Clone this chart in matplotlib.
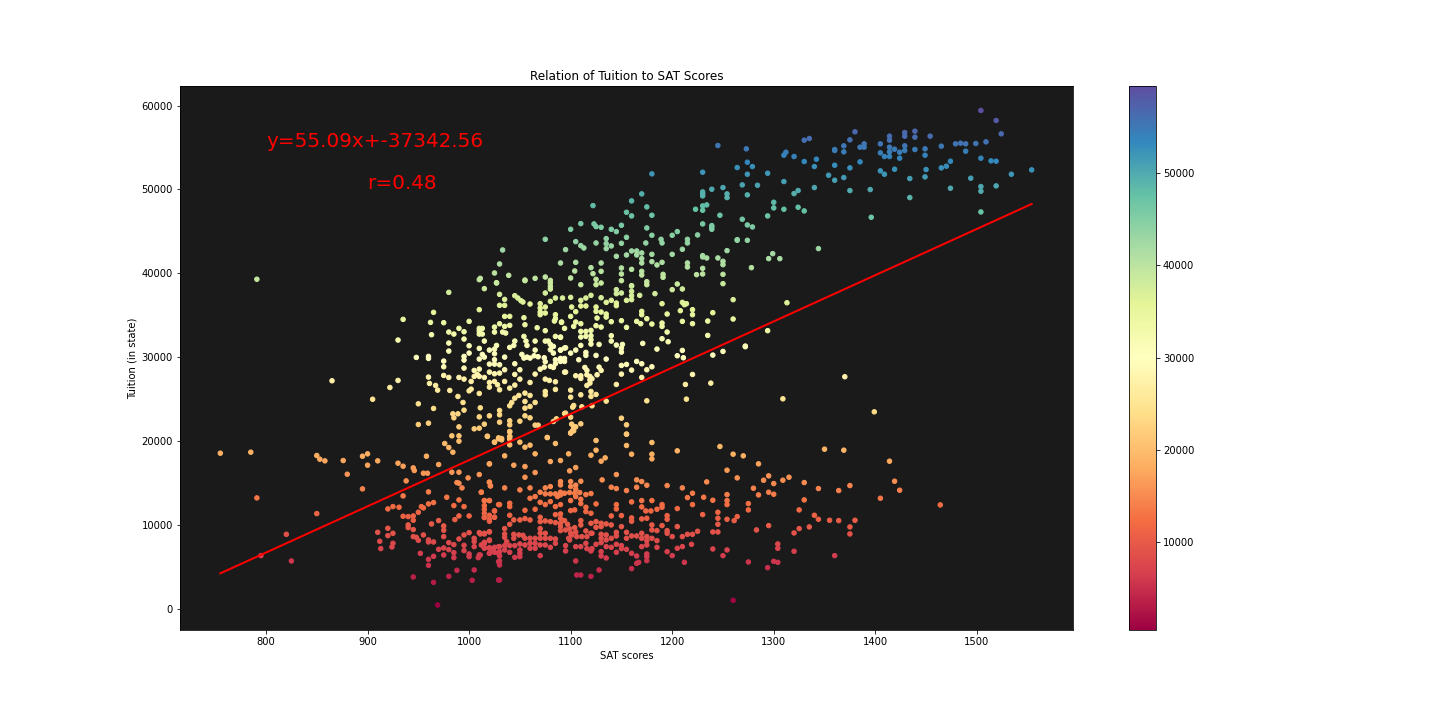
import matplotlib
matplotlib.use("Agg")
import matplotlib.pyplot as plt

# (SAT score, in-state tuition), grouped by tuition band
band_top = [(1504,59412),(1519,58220),(1524,56628),(1380,56867),(1335,56070),(1330,55872),(1245,55236),(1273,54838),(1312,54440),(1310,54083),(1320,53923),(1342,53605),(1330,53327),(1274,53247),(1279,52730),(1264,52610),(1230,52055),(1294,51935),(1274,51815),(1310,50940),(1269,50543),(1284,50503),(1250,50225),(1239,50026),(1324,49867),(1320,49509),(1230,49708),(1230,49470),(1230,49230),(1254,49470),(1254,49030),(1274,49350),(1340,50225),(1340,52730),(1360,54760),(1360,54640),(1369,55196),(1369,54480),(1375,55912),(1385,55037),(1389,55435),(1389,55037),(1405,55435),(1405,54360),(1414,56350),(1414,55872),(1414,55037),(1414,54480),(1414,53923),(1409,53923),(1419,54798),(1424,54440),(1424,53725),(1429,56787),(1429,56350),(1429,55196),(1429,54640),(1439,56946),(1439,56230),(1439,54760),(1454,56350),(1449,54838),(1449,54083),(1465,55157),(1479,55435),(1484,55514),(1489,55435),(1489,54560),(1499,55474),(1509,55673),(1504,53725),(1514,53406),(1519,53367),(1474,53367),(1470,52770),(1465,52571),(1450,52372),(1419,52412),(1405,52213),(1409,51815),(1385,53287),(1375,52571),(1360,52890),(1354,51696),(1360,51100),(1369,51418),(1434,51300),(1449,51497),(1494,51340),(1534,51815),(1554,52332),(1474,50145),(1504,50344),(1504,49787),(1519,50424),(1375,49867),(1395,49986),(1434,49032),(1504,47321),(1396,46685),(1300,48475),(1300,47800),(1310,47640),(1324,47878),(1330,47441),(1294,46845),(1223,47640),(1230,48038),(1230,47520),(1234,48157),(1247,46924),(1269,46447),(1274,45770),(1279,45532),(1230,45890),(1239,45691),(1239,45492),(1239,45254),(1225,44577),(1264,44020),(1274,43941)]

band_upper = [(1180,51856),(1170,49470),(1160,48635),(1122,48078),(1175,47919),(1155,47282),(1160,46845),(1180,46925),(1110,45930),(1100,45254),(1123,45890),(1125,45572),(1130,45493),(1140,45254),(1145,44976),(1150,45732),(1175,45413),(1155,44300),(1180,44538),(1200,44538),(1205,44976),(1189,44060),(1190,43623),(1215,44060),(1215,43623),(1075,44060),(1105,43783),(1110,43305),(1113,43027),(1125,43623),(1135,44140),(1135,43544),(1135,42948),(1140,43266),(1150,43584),(1174,43623),(1210,42868),(1254,42709),(1264,43942),(1095,42828),(1033,42788),(1160,42669),(1165,42669),(1165,42192),(1170,42430),(1155,42192),(1145,42033),(1180,42272),(1200,42272),(1230,42113),(1230,41953),(1234,41834),(1245,41834),(1250,41436),(1250,41038),(1170,41754),(1170,41237),(1180,41396),(1185,40999),(1190,41317),(1215,41237),(1215,40760),(1090,41237),(1105,41317),(1130,41237),(1030,41118),(1120,40680),(1104,40283),(1130,40243),(1150,40640),(1150,39925),(1150,39130),(1160,40480),(1170,40243),(1170,39806),(1122,39965),(1025,40044),(1039,39766),(1230,40601),(1230,39925),(1224,39845),(1250,39885),(1250,38772),(1191,39885),(1191,39528),(1055,39209),(1065,39408),(1075,39567),(1080,39169),(1080,38851),(1080,38453),(1080,38130),(1011,39408),(1100,39448),(1125,39289),(1125,38652),(1130,38851),(1027,38851),(1110,38652),(1175,39010),(1175,38652),(1160,38493),(1205,38732),(791,39300),(1295,41755),(1299,42350),(1306,41755),(1278,40680),(1344,42950)]

band_mid_right = [(1092,37063),(1100,37142),(1110,36784),(1115,37063),(1120,37381),(1130,37100),(1135,36546),(1140,36784),(1145,38057),(1145,37580),(1145,36466),(1145,36148),(1150,37660),(1155,36784),(1160,38535),(1160,37858),(1160,37340),(1160,36864),(1168,37381),(1183,37580),(1200,38057),(1210,38137),(1260,36864),(1190,36386),(1210,36546),(1214,36386),(1212,36267),(1101,35989),(1110,36108),(1115,36108),(1125,35989),(1125,35472),(1130,35392),(1135,35154),(1135,34796),(1170,35472),(1170,35074),(1195,35154),(1208,35551),(1220,35670),(1220,35074),(1240,35313),(1100,34875),(1105,35432),(1126,34676),(1140,34239),(1150,34358),(1165,34279),(1169,34000),(1175,34597),(1180,33960),(1190,34080),(1190,33682),(1210,34279),(1220,34000),(1235,34318),(1260,34557),(1091,34200),(1105,34200),(1103,33682),(1110,34000),(1094,33444),(1125,33762),(1130,33603),(1155,33563),(1110,33086),(1115,33086),(1120,33205),(1110,32410),(1115,32490),(1120,32570),(1120,32091),(1120,31574),(1090,32410),(1140,32570),(1140,31932),(1195,33006),(1235,32608),(1190,32211),(1196,31853),(1128,31534),(1145,31455),(1151,31534),(1150,31097),(1150,30620),(1171,31654),(1110,31415),(1105,30859),(1094,31097),(1090,30859),(1100,30500),(1115,30580),(1115,30222),(1125,30222),(1185,30978),(1210,30819),(1205,30182),(1211,29944),(1240,30262),(1250,30700),(1272,31336),(1094,29864),(1090,29864),(1094,29506),(1090,29506),(1108,29705),(1135,29785),(1150,29030),(1155,29150),(1165,29506),(1170,29228),(1160,28472),(1175,28512),(1180,28870),(1114,28790),(1116,28430),(1128,28830),(1130,28433),(1094,28234),(1150,27995),(1105,27796),(1110,27796),(1110,27478),(1116,27915),(1119,27717),(1119,27320),(1119,26921),(1116,26643),(1121,27440),(1126,27915),(1170,27598),(1220,27955),(1145,26762),(1213,26762),(1238,26921),(1100,26086),(1100,25250),(1110,25530),(1120,25927),(1120,25330),(1125,25569),(1214,25012),(1175,24813),(1135,24774),(1103,24257),(1102,24058),(1111,24098),(1121,24217),(1094,23300),(1100,22865),(1150,22745),(1155,21950),(1101,22030),(1103,21711),(1105,21711),(1110,22070),(1102,21274),(1100,20956),(1155,20836),(1294,33170),(1313,36500),(1309,25050),(1370,27680),(1399,23500),(1272,31260)]

band_mid_left = [(980,37739),(1010,39250),(1015,38176),(1027,38892),(1055,39130),(1030,37500),(1035,36900),(1030,36188),(1035,36188),(1045,37341),(1048,37063),(1051,36745),(1053,36585),(1060,36347),(1075,37660),(1070,36386),(1075,35989),(1070,35869),(1070,35392),(1070,35074),(1075,35273),(1080,36664),(1085,37063),(1085,35074),(1085,34597),(1010,35671),(965,35353),(935,34517),(962,34160),(975,34120),(1000,34279),(1035,34875),(1040,34875),(1054,34716),(1030,33990),(1035,33682),(1040,33802),(1055,33881),(963,32688),(980,33006),(985,32767),(990,33444),(995,33046),(1010,33444),(1010,33125),(1010,32767),(1013,33444),(1013,32767),(1025,33603),(1025,33006),(1033,33006),(1036,32886),(1067,33523),(1075,33165),(1084,34318),(1091,34160),(995,32171),(1015,31932),(930,32052),(980,31694),(980,30739),(1000,31375),(1000,30500),(1010,31057),(1020,30859),(1025,30978),(1025,30421),(1027,31415),(1045,31932),(1044,31415),(1040,31176),(1054,32490),(1056,31932),(1057,31415),(1065,31932),(1065,30859),(1075,31932),(1078,31932),(1080,31534),(1083,31296),(1080,30900),(1083,30500),(1085,32490),(1090,32370),(1090,30859),(1095,31136),(948,29983),(960,30103),(960,29864),(975,29546),(975,28870),(995,30103),(995,29665),(1010,29785),(1013,30341),(1015,30023),(1020,29188),(1025,29705),(1025,29188),(1030,29108),(1035,30023),(1045,29228),(1052,30341),(1054,29904),(1057,30023),(1060,29904),(1064,30182),(1068,30063),(1074,29944),(1075,29467),(1085,29705),(1085,29228),(1083,28790),(1080,28910),(1090,29825)]

band_low_mid = [(995,28710),(1005,28432),(1010,28591),(1020,28234),(1025,28035),(1030,28115),(1035,28512),(1050,28512),(1045,27955),(1070,28591),(1074,28830),(1095,28234),(960,27637),(975,27836),(980,27597),(990,27597),(995,27399),(1005,27717),(1008,27955),(1010,27717),(1015,27597),(1020,27000),(1025,27120),(1035,27120),(1050,27398),(1065,27995),(1075,27399),(1079,27240),(1085,27080),(930,27240),(961,26881),(967,26643),(969,26086),(922,26400),(981,26047),(1002,27120),(1002,26205),(1000,26000),(1020,26444),(1028,26722),(1030,26125),(1040,26325),(1045,26683),(1060,27000),(1085,26166),(1010,25688),(989,25330),(950,24455),(965,23900),(994,24615),(995,23700),(1011,23978),(984,23263),(989,23263),(985,22785),(1010,22900),(1020,23024),(1030,23660),(1030,23143),(1030,22268),(1040,22427),(1040,21950),(1040,24217),(1042,24615),(1045,25132),(1049,25450),(1055,25728),(1055,24734),(1055,23938),(1055,23024),(1060,25450),(1060,24138),(1065,24615),(1075,25927),(1075,25530),(1060,22785),(1050,22387),(1065,21911),(1068,21911),(1015,22030),(1005,21472),(1010,21552),(990,21711),(950,21990),(960,22149),(983,20638),(990,20638),(1018,20598),(1029,20400),(1032,20320),(1040,21115),(1040,20558),(1077,20439),(1083,22349),(1086,22666),(1095,23342),(865,27200),(905,25000)]

band_left = [(755,18571),(785,18690),(791,13242),(795,6362),(820,8907),(825,5725),(850,18293),(853,17855),(858,17657),(850,11373),(876,17696),(880,16066),(895,18213),(900,18490),(895,14316),(900,17140),(910,17657),(930,17378),(935,17020),(935,13480),(938,15270),(945,16821),(946,16503),(958,18213),(955,16185),(959,16185),(970,17220),(960,13958),(978,13322),(983,16304),(990,16304),(976,19724),(980,19247),(984,18690),(990,20000),(1025,19884),(1020,17300),(1010,16026),(999,15628),(988,15071),(990,14992),(993,14435),(1020,15111),(1021,14674),(1012,13918),(990,13003),(985,12327),(995,12208),(1015,12924),(1020,12924),(1015,12327),(1015,11890),(1015,11413),(1015,10896),(1020,11174),(1020,10458),(1025,11690),(1025,10936),(1029,12446),(990,11094),(986,10657),(1000,11094),(965,12686),(960,12526),(953,12208),(955,12050),(950,11532),(945,11094),(945,10578),(935,11054),(940,11014),(920,11930),(925,12208),(931,12130),(970,10538),(963,10140),(975,9900),(975,9385),(940,10021),(940,9700),(945,9464),(955,8827),(910,9145),(920,9623),(920,8748),(925,9027),(945,8630),(948,8550),(950,8191),(975,8628),(960,8232),(960,7993),(965,7993),(912,8072),(925,7833),(924,7396),(913,7197),(980,7913),(985,7674),(970,7117),(975,7276),(980,7077),(985,6720),(985,6123),(975,6442),(952,6640),(965,6282),(960,5925),(960,5208),(990,8350),(995,8827),(1000,9106),(1010,9106),(1015,8947),(1020,9186),(995,7595),(995,6958),(1000,6560),(1000,6242),(1005,8430),(1005,8032),(1005,7435),(1020,8231),(1015,7833),(1015,7237),(1020,7237),(1020,6640),(1010,6440),(1009,6123),(1024,7038),(1029,7435),(1029,6640),(1029,5646),(945,3817),(965,3180),(980,3896),(988,4612),(1005,4652),(1003,3419),(1029,3460),(969,476)]

band_center = [(1018,20560),(1025,19884),(1029,20281),(1032,20162),(1040,21156),(1040,20560),(1040,20241),(1040,19565),(1050,19884),(1055,19287),(1060,19526),(1077,20440),(1085,19724),(1100,21000),(1103,21236),(1125,20082),(1125,18929),(1120,18332),(1134,18014),(1130,17617),(1155,20838),(1155,19486),(1160,18452),(1180,19844),(1180,18452),(1180,17895),(1205,18850),(1247,19367),(1260,18452),(1065,18492),(1035,18253),(1020,17300),(1044,17140),(1055,16980),(1080,17577),(1090,17696),(1098,18492),(1105,16860),(1099,16463),(1065,16265),(1055,15708),(1020,15111),(1021,14674),(1035,14435),(1050,14196),(1060,14435),(1075,14435),(1080,14594),(1090,15191),(1090,14793),(1100,15191),(1100,14594),(1110,15230),(1105,14753),(1105,14276),(1131,15390),(1145,16026),(1165,15390),(1165,14514),(1170,15191),(1175,14753),(1140,14514),(1145,14355),(1155,14117),(1195,14713),(1210,14435),(1234,15151),(1254,16543),(1264,15628),(1070,13918),(1075,13719),(1080,13719),(1085,13719),(1090,13918),(1094,13800),(1099,13878),(1104,13800),(1109,13878),(1115,13640),(1120,13760),(1065,13400),(1060,13200),(1087,13400),(1090,13600),(1012,13918),(1220,13800),(1215,13282),(1254,13640),(1231,13322),(1240,12964),(1254,12925),(1254,12446),(1105,13400),(1110,13083),(1110,12566),(1100,12925),(1070,12725),(1075,12446),(1080,12804),(1040,12606),(1040,12208),(1030,12446),(1015,12924),(1020,12924),(1125,12526),(1160,12764),(1170,12924),(1170,12168),(1180,12924),(1190,12446),(1190,12128),(1220,12446),(1145,12446),(1145,11930),(1085,12208),(1090,12446),(1115,12128),(1055,11770),(1065,11890),(1100,11730),(1104,11810),(1115,11611),(1174,11690),(1179,11690),(1185,11890),(1205,11970),(1090,11333),(1085,11253),(1120,11413),(1025,11690),(1025,10935),(1140,11094),(1150,11134),(1160,10855),(1160,10458),(1195,11134),(1195,10696),(1230,11253),(1245,11532),(1245,10816),(1245,10100),(1254,10696),(1264,11015),(1261,10537),(1040,11174)]

band_low = [(1170,10736),(1175,10815),(1015,10935),(1020,10696),(1044,10617),(1050,10617),(1055,10776),(1060,10617),(1070,10935),(1070,10418),(1075,10498),(1080,10418),(1085,10299),(1090,10816),(1090,10220),(1090,9822),(1094,10537),(1097,10100),(1110,10537),(1110,10020),(1120,10220),(1125,10418),(1130,10220),(1135,10140),(1140,10021),(1125,9742),(1130,9822),(1150,9822),(1180,10021),(1180,9424),(1190,9941),(1185,9344),(1205,9822),(1195,9344),(1195,9027),(1240,9186),(1245,9186),(1225,9265),(1220,8907),(1215,8907),(1210,8628),(1200,8628),(1035,9583),(1040,10100),(1070,9583),(1070,9027),(1090,9344),(1099,9544),(1104,9702),(1105,9186),(1095,9424),(1100,9027),(1115,9305),(1120,9027),(1145,9146),(1145,8708),(1140,8430),(1130,8907),(1135,8828),(1130,8430),(1135,8231),(1130,7913),(1135,7435),(1155,9146),(1155,8430),(1160,8708),(1165,8708),(1170,9027),(1170,8430),(1175,8628),(1175,8151),(1180,8430),(1185,8151),(1015,9027),(1020,9225),(1011,8947),(1035,8947),(1035,8550),(1037,8032),(1044,8907),(1044,8430),(1049,8828),(1053,8788),(1075,9027),(1080,8430),(1075,8430),(1070,8430),(1065,8430),(1060,8430),(1055,8430),(1085,8350),(1085,7833),(1098,8430),(1101,8828),(1106,8628),(1111,8628),(1116,8628),(1099,8231),(1121,9027),(1115,7833),(1125,7714),(1095,7555),(1095,6918),(1105,7435),(1020,8151),(1020,7316),(1015,7953),(1012,7634),(1015,7316),(1025,7356),(1030,7435),(1035,7555),(1035,7037),(1040,7555),(1040,6760),(1045,7555),(1050,7754),(1050,7037),(1055,7634),(1060,7833),(1060,7236),(1065,7833),(1065,7236),(1070,7634),(1075,7634),(1080,7356),(1011,6440),(1020,6640),(1025,6760),(1030,6840),(1030,6322),(1045,6163),(1050,6243),(1050,6640),(1070,6362),(1110,7435),(1116,7197),(1121,7197),(1120,6918),(1130,6840),(1130,6322),(1135,6083),(1140,7356),(1145,7714),(1145,6760),(1150,7555),(1150,7197),(1155,7117),(1160,6640),(1165,6322),(1170,7435),(1175,7634),(1175,6561),(1175,6243),(1175,5766),(1185,7356),(1195,6840),(1200,6362),(1205,7237),(1210,7435),(1219,7714),(1240,7157),(1254,7038),(1250,6362),(1212,5566),(1165,5447),(1167,5566),(1160,4811),(1105,5725),(1106,4055),(1110,4055),(1120,3896),(1128,4652),(1030,5726),(1030,5248),(1030,3458),(1260,1033)]

band_right = [(1350,19048),(1369,18929),(1414,17617),(1270,18253),(1285,17300),(1295,15867),(1290,15350),(1300,14952),(1309,15350),(1315,15708),(1330,15071),(1344,14355),(1364,14117),(1375,14713),(1419,15230),(1424,14156),(1405,13202),(1464,12407),(1280,14395),(1285,13600),(1295,13918),(1300,13680),(1330,13003),(1275,12566),(1275,11810),(1325,11810),(1340,11174),(1344,10696),(1355,10577),(1364,10537),(1380,10577),(1375,9782),(1375,8947),(1335,9782),(1325,9583),(1320,9066),(1295,9941),(1283,9424),(1304,7754),(1304,7237),(1320,6879),(1360,6362),(1275,5606),(1300,5685),(1304,5566),(1294,4930)]

bands = [band_top, band_upper, band_mid_right, band_mid_left, band_low_mid,
         band_left, band_center, band_low, band_right]
sat = [p[0] for b in bands for p in b]
tuition = [p[1] for b in bands for p in b]

slope = 55.09
intercept = -37342.56
r_value = 0.48

fig = plt.figure(figsize=(20, 10), dpi=72)
fig.subplots_adjust(left=0.125, right=0.9, bottom=0.125, top=0.88)
ax = fig.add_subplot(111)
ax.set_facecolor('0.1')
sc = ax.scatter(sat, tuition, c=tuition, cmap='Spectral', s=20, edgecolors='face', linewidths=1.0)
cb = fig.colorbar(sc, ax=ax)
cb.outline.set_linewidth(0.8)

x_ends = [min(sat), max(sat)]
ax.plot(x_ends, [slope * v + intercept for v in x_ends], color='red', lw=2)
ax.text(800, 55000, f"y={slope}x+{intercept}", color='red', fontsize=20)
ax.text(900, 50000, f"r={r_value}", color='red', fontsize=20)

ax.set_xlim(715.3, 1594.5)
ax.set_ylim(-2500, 62280)
ax.set_xticks([800, 900, 1000, 1100, 1200, 1300, 1400, 1500])
ax.set_xlabel('SAT scores')
ax.set_ylabel('Tuition (in state)')
ax.set_title('Relation of Tuition to SAT Scores')
fig.savefig('out.png', dpi=72)
